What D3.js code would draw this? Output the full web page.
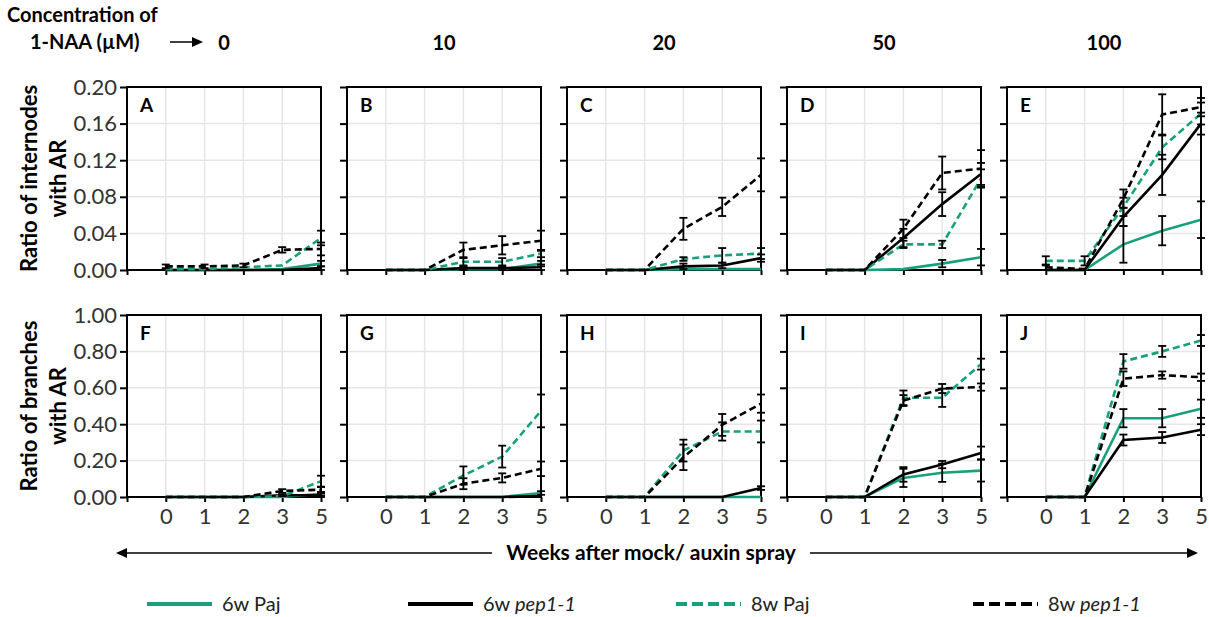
<!DOCTYPE html>
<html>
<head>
<meta charset="utf-8">
<script src="https://cdn.jsdelivr.net/npm/d3@7"></script>
<style>
  body { margin: 0; background: #fff; }
  svg { font-family: Lato, "Open Sans", sans-serif; }
</style>
</head>
<body>
<div id="chart"></div>
<script>
// chart data
const weeks = ["0", "1", "2", "3", "5"];
const concentrations = ["0", "10", "20", "50", "100"];
const seriesNames = ["6w Paj", "6w pep1-1", "8w Paj", "8w pep1-1"];
const topLetters = ["A", "B", "C", "D", "E"];
const bottomLetters = ["F", "G", "H", "I", "J"];
const internodeTicks = [0, 0.04, 0.08, 0.12, 0.16, 0.20];
const branchTicks = [0, 0.2, 0.4, 0.6, 0.8, 1.0];

// ratio of internodes with AR, one row per concentration, values at weeks 0,1,2,3,5
const int6wPaj = [
  [0, 0, 0, 0.001, 0.007],
  [0, 0, 0.001, 0.001, 0.007],
  [0, 0, 0.001, 0.001, 0.001],
  [0, 0, 0.001, 0.007, 0.014],
  [0, 0, 0.028, 0.043, 0.055]
];
const int6wPajErr = [
  [0, 0, 0, 0, 0.003],
  [0, 0, 0, 0, 0.003],
  [0, 0, 0, 0, 0],
  [0, 0, 0, 0.004, 0.009],
  [0, 0, 0.02, 0.016, 0.02]
];
const int6wPep = [
  [0, 0, 0, 0, 0.002],
  [0, 0, 0.002, 0.002, 0.003],
  [0, 0, 0.004, 0.005, 0.013],
  [0, 0, 0.035, 0.072, 0.105],
  [0, 0, 0.058, 0.104, 0.16]
];
const int6wPepErr = [
  [0, 0, 0, 0, 0.002],
  [0, 0, 0.002, 0.002, 0.003],
  [0, 0, 0.003, 0.003, 0.004],
  [0, 0, 0.01, 0.013, 0.012],
  [0, 0, 0.01, 0.022, 0.012]
];
const int8wPaj = [
  [0.001, 0.001, 0.003, 0.005, 0.035],
  [0, 0, 0.009, 0.009, 0.018],
  [0, 0, 0.012, 0.016, 0.018],
  [0, 0, 0.028, 0.028, 0.1],
  [0.01, 0.01, 0.069, 0.134, 0.171]
];
const int8wPajErr = [
  [0, 0, 0, 0, 0.008],
  [0, 0, 0.004, 0.004, 0.004],
  [0, 0, 0.002, 0.008, 0.006],
  [0, 0, 0.004, 0.004, 0.01],
  [0.005, 0.005, 0.01, 0.013, 0.012]
];
const int8wPep = [
  [0.004, 0.004, 0.005, 0.022, 0.023],
  [0, 0, 0.022, 0.027, 0.032],
  [0, 0, 0.045, 0.069, 0.104],
  [0, 0, 0.045, 0.106, 0.111],
  [0.003, 0.001, 0.078, 0.17, 0.178]
];
const int8wPepErr = [
  [0.002, 0.002, 0.002, 0.003, 0.007],
  [0, 0, 0.008, 0.01, 0.011],
  [0, 0, 0.012, 0.01, 0.018],
  [0, 0, 0.01, 0.018, 0.02],
  [0.003, 0, 0.01, 0.022, 0.01]
];

// ratio of branches with AR
const br6wPaj = [
  [0, 0, 0, 0, 0.018],
  [0, 0, 0, 0, 0.022],
  [0, 0, 0, 0, 0],
  [0, 0, 0.105, 0.133, 0.145],
  [0, 0, 0.433, 0.433, 0.485]
];
const br6wPajErr = [
  [0, 0, 0, 0, 0.01],
  [0, 0, 0, 0, 0.01],
  [0, 0, 0, 0, 0],
  [0, 0, 0.05, 0.05, 0.06],
  [0, 0, 0.05, 0.05, 0.05]
];
const br6wPep = [
  [0, 0, 0, 0.01, 0.01],
  [0, 0, 0, 0, 0.005],
  [0, 0, 0, 0, 0.049],
  [0, 0, 0.124, 0.178, 0.242],
  [0, 0, 0.313, 0.327, 0.37]
];
const br6wPepErr = [
  [0, 0, 0, 0.005, 0.01],
  [0, 0, 0, 0, 0],
  [0, 0, 0, 0, 0.01],
  [0, 0, 0.04, 0.02, 0.035],
  [0, 0, 0.03, 0.03, 0.03]
];
const br8wPaj = [
  [0, 0, 0, 0.004, 0.087],
  [0, 0, 0.118, 0.222, 0.473],
  [0, 0, 0.255, 0.36, 0.36],
  [0, 0, 0.545, 0.545, 0.73],
  [0, 0, 0.745, 0.8, 0.86]
];
const br8wPajErr = [
  [0, 0, 0, 0, 0.03],
  [0, 0, 0.05, 0.06, 0.09],
  [0, 0, 0.06, 0.05, 0.06],
  [0, 0, 0.04, 0.05, 0.03],
  [0, 0, 0.04, 0.03, 0.03]
];
const br8wPep = [
  [0, 0, 0, 0.033, 0.04],
  [0, 0, 0.073, 0.105, 0.155],
  [0, 0, 0.218, 0.396, 0.513],
  [0, 0, 0.53, 0.596, 0.604],
  [0, 0, 0.65, 0.67, 0.658]
];
const br8wPepErr = [
  [0, 0, 0, 0.01, 0.015],
  [0, 0, 0.03, 0.025, 0.04],
  [0, 0, 0.07, 0.06, 0.05],
  [0, 0, 0.03, 0.025, 0.02],
  [0, 0, 0.04, 0.02, 0.02]
];

// layout
const WIDTH = 1209;
const HEIGHT = 617;
const GREEN = "#17a07b";
const PANEL = { LEFT: 127, STEP: 220, WIDTH: 194 };
const STYLE = [
  { color: GREEN, dash: null },
  { color: "#000", dash: null },
  { color: GREEN, dash: "7,4" },
  { color: "#000", dash: "7,4" }
];

const rows = [
  { top: 87, height: 183, domain: [0, 0.2], ticks: internodeTicks, letters: topLetters,
    title: ["Ratio of internodes", "with AR"],
    values: [int6wPaj, int6wPep, int8wPaj, int8wPep],
    errors: [int6wPajErr, int6wPepErr, int8wPajErr, int8wPepErr], xLabels: false },
  { top: 315, height: 182, domain: [0, 1], ticks: branchTicks, letters: bottomLetters,
    title: ["Ratio of branches", "with AR"],
    values: [br6wPaj, br6wPep, br8wPaj, br8wPep],
    errors: [br6wPajErr, br6wPepErr, br8wPajErr, br8wPepErr], xLabels: true }
];

const svg = d3.select("#chart").append("svg")
  .attr("width", WIDTH)
  .attr("height", HEIGHT);

// x scale: the first slot sits on the y axis and stays empty
const xDomain = ["-"].concat(weeks);
const x = d3.scalePoint().domain(xDomain).range([0, PANEL.WIDTH]);

rows.forEach((row, r) => {
  const y = d3.scaleLinear().domain(row.domain).range([row.height, 0]);

  concentrations.forEach((conc, p) => {
    const g = svg.append("g")
      .attr("transform", `translate(${PANEL.LEFT + p * PANEL.STEP}, ${row.top})`);

    // grid
    g.selectAll(".vgrid").data(weeks).enter().append("line")
      .attr("x1", d => x(d)).attr("x2", d => x(d))
      .attr("y1", 0).attr("y2", row.height)
      .attr("stroke", "#e6e6e6").attr("stroke-width", 1.5);
    g.selectAll(".hgrid").data(row.ticks.slice(1)).enter().append("line")
      .attr("x1", 0).attr("x2", PANEL.WIDTH)
      .attr("y1", d => y(d)).attr("y2", d => y(d))
      .attr("stroke", "#e6e6e6").attr("stroke-width", 1.5);

    // axes
    const yAxis = d3.axisLeft(y).tickValues(row.ticks).tickSize(7).tickPadding(3)
      .tickFormat(p == 0 ? d3.format(".2f") : "");
    const ya = g.append("g").call(yAxis);
    const xAxis = d3.axisBottom(x).tickSize(5).tickPadding(6)
      .tickFormat(d => (row.xLabels && d != "-") ? d : "");
    const xa = g.append("g").attr("transform", `translate(0, ${row.height})`).call(xAxis);
    [ya, xa].forEach(a => {
      a.select(".domain").remove();
      a.selectAll("line").attr("stroke", "#000").attr("stroke-width", 2);
      a.selectAll("text").attr("fill", "#333").style("font-size", "22px")
        .style("font-family", "Lato, sans-serif");
    });

    g.append("rect")
      .attr("x", 0).attr("y", 0)
      .attr("width", PANEL.WIDTH).attr("height", row.height)
      .attr("fill", "none").attr("stroke", "#000").attr("stroke-width", 2);

    // series
    const line = d3.line()
      .x((d, i) => x(weeks[i]))
      .y(d => y(d));

    row.values.forEach((series, s) => {
      g.append("path")
        .datum(series[p])
        .attr("d", line)
        .attr("fill", "none")
        .attr("stroke", STYLE[s].color)
        .attr("stroke-width", 2.6)
        .attr("stroke-dasharray", STYLE[s].dash);
    });

    // error bars
    row.values.forEach((series, s) => {
      const bars = series[p].map((v, i) => ({ v: v, e: row.errors[s][p][i], w: weeks[i] }))
        .filter(d => d.e > 0);
      const eb = g.selectAll(`.err${s}`).data(bars).enter().append("g");
      eb.append("line")
        .attr("x1", d => x(d.w)).attr("x2", d => x(d.w))
        .attr("y1", d => y(d.v - d.e)).attr("y2", d => y(d.v + d.e));
      eb.append("line")
        .attr("x1", d => x(d.w) - 4).attr("x2", d => x(d.w) + 4)
        .attr("y1", d => y(d.v - d.e)).attr("y2", d => y(d.v - d.e));
      eb.append("line")
        .attr("x1", d => x(d.w) - 4).attr("x2", d => x(d.w) + 4)
        .attr("y1", d => y(d.v + d.e)).attr("y2", d => y(d.v + d.e));
      eb.selectAll("line").attr("stroke", "#000").attr("stroke-width", 1.8);
    });

    g.append("text")
      .attr("x", 13).attr("y", 25)
      .style("font-size", "19px").style("font-weight", "700")
      .text(row.letters[p]);
  });

  // y axis title
  const cy = row.top + row.height / 2;
  row.title.forEach((t, i) => {
    svg.append("text")
      .attr("transform", `translate(${28 + i * 29}, ${cy}) rotate(-90)`)
      .attr("text-anchor", "middle")
      .attr("dominant-baseline", "central")
      .style("font-size", "22px").style("font-weight", "700")
      .text(t);
  });
});

// concentration header
svg.append("text").attr("x", 7).attr("y", 22)
  .style("font-size", "20px").style("font-weight", "700")
  .text("Concentration of");
svg.append("text").attr("x", 30).attr("y", 49)
  .style("font-size", "20px").style("font-weight", "700")
  .text("1-NAA (\u00b5M)");
svg.append("line").attr("x1", 170).attr("x2", 194).attr("y1", 42).attr("y2", 42)
  .attr("stroke", "#000").attr("stroke-width", 1.5);
svg.append("path").attr("d", "M192,37L203,42L192,47Z").attr("fill", "#000");

svg.selectAll(".conc").data(concentrations).enter().append("text")
  .attr("x", (d, i) => PANEL.LEFT + i * PANEL.STEP + PANEL.WIDTH / 2)
  .attr("y", 50)
  .attr("text-anchor", "middle")
  .style("font-size", "20px").style("font-weight", "700")
  .text(d => d);

// weeks arrow
const arrowY = 553;
svg.append("line").attr("x1", 124).attr("x2", 492).attr("y1", arrowY).attr("y2", arrowY)
  .attr("stroke", "#000").attr("stroke-width", 1.5);
svg.append("line").attr("x1", 810).attr("x2", 1190).attr("y1", arrowY).attr("y2", arrowY)
  .attr("stroke", "#000").attr("stroke-width", 1.5);
svg.append("path").attr("d", `M116,${arrowY}L127,${arrowY - 5}L127,${arrowY + 5}Z`).attr("fill", "#000");
svg.append("path").attr("d", `M1198,${arrowY}L1187,${arrowY - 5}L1187,${arrowY + 5}Z`).attr("fill", "#000");
svg.append("text").attr("x", 651).attr("y", arrowY + 7)
  .attr("text-anchor", "middle")
  .style("font-size", "21px").style("font-weight", "700")
  .text("Weeks after mock/ auxin spray");

// legend
const legendX = [147, 408, 676, 973];
const legendY = 604;
seriesNames.forEach((name, i) => {
  svg.append("line")
    .attr("x1", legendX[i]).attr("x2", legendX[i] + 65)
    .attr("y1", legendY).attr("y2", legendY)
    .attr("stroke", STYLE[i].color).attr("stroke-width", 4)
    .attr("stroke-dasharray", STYLE[i].dash ? "11,5" : null);
  const t = svg.append("text")
    .attr("x", legendX[i] + 75).attr("y", legendY + 7)
    .style("font-size", "20px").attr("fill", "#222");
  const parts = name.split(" ");
  t.append("tspan").text(parts[0] + " ");
  t.append("tspan").style("font-style", parts[1] == "Paj" ? "normal" : "italic").text(parts[1]);
});
</script>
</body>
</html>
